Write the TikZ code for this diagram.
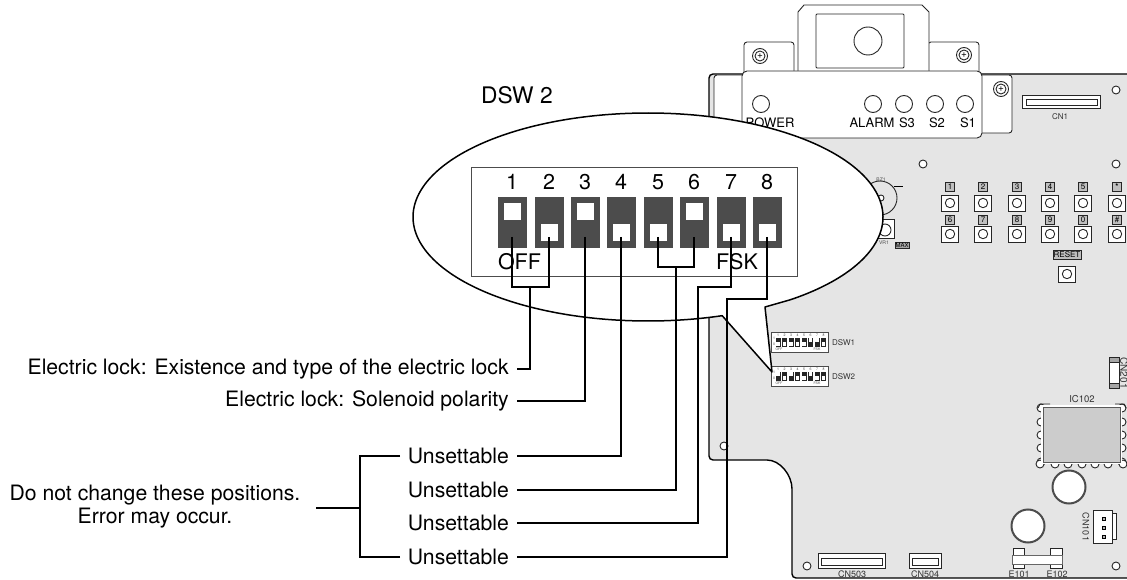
\documentclass[tikz,border=0pt]{standalone}
\usepackage{fontspec}
\setmainfont{TeX Gyre Heros}
\usetikzlibrary{positioning}

\begin{document}
\begin{tikzpicture}[x=1pt,y=-1pt]
\tikzstyle{lead}=[draw,line width=1.7pt]
\tikzstyle{part}=[draw=black!85,line width=0.9pt,fill=white]
\tikzstyle{hole}=[draw=black!85,line width=0.9pt,fill=white]
\tikzstyle{sw}=[draw=black!70,fill=black!70,minimum width=28pt,minimum height=50pt,inner sep=0pt]
\tikzstyle{win}=[draw=black!70,fill=white,minimum size=18pt,inner sep=0pt]
\tikzstyle{minisw}=[fill=black!85,minimum width=5pt,minimum height=9pt,inner sep=0pt]
\tikzstyle{miniwin}=[fill=white,minimum size=3.4pt,inner sep=0pt]
\tikzstyle{key}=[draw=black!85,line width=0.9pt,fill=white,minimum width=17pt,minimum height=16pt,inner sep=0pt]
\tikzstyle{keylabel}=[draw=black!85,fill=black!25,font=\fontsize{8}{8}\selectfont,minimum size=9pt,inner sep=0.5pt]
\tikzstyle{big}=[font=\fontsize{21.5}{21.5}\selectfont,inner sep=0pt]
\tikzstyle{txt}=[font=\fontsize{21.2}{23}\selectfont,inner sep=7.5pt]
\tikzstyle{silk}=[font=\fontsize{9}{9}\selectfont,text=black!80,inner sep=0pt]
\tikzstyle{tiny}=[font=\fontsize{3.5}{3.5}\selectfont,text=black!70,inner sep=0pt]

\clip (0,0) rectangle (1127,580);

% board
\draw[fill=black!10,line width=1.4pt,rounded corners=4pt]
    (1135,74) -- (709,74) -- (709,460) -- (763,460)
    .. controls (780,460) and (792,475) .. (792,493)
    -- (792,578) -- (1135,578) -- cycle;
\draw[part,rounded corners=3pt] (745,75) -- (714,75) -- (714,135) -- (745,135);

% front plate and tabs
\draw[part,rounded corners=3pt] (744,72) -- (744,42) -- (794,42) -- (794,72);
\draw[part,rounded corners=3pt] (928,72) -- (928,42) -- (979,42) -- (979,72);
\draw[part] (798,72) -- (798,12) -- (804,5) -- (922,5) -- (929,12) -- (929,72);
\draw[part,rounded corners=1pt] (816,14) rectangle (904,68);
\node[circle,hole,minimum size=28pt,inner sep=0pt] (lens) at (868,41) {};
\draw[part,rounded corners=3pt] (975,75) -- (1012,75) -- (1012,133) -- (975,133);
\draw[part,rounded corners=5pt] (742,71) rectangle (982,138);
\foreach \n/\x/\y in {a/760/56,b/964/55,c/1001/89} {
    \node[circle,hole,minimum size=15pt,inner sep=0pt] (screw\n) at (\x,\y) {};
    \node[circle,hole,minimum size=10pt,inner sep=0pt] at (\x,\y) {+};
}
\foreach \n/\x/\t/\tx in {a/761/POWER/770,b/873/ALARM/872,c/904/S3/907,d/935/S2/937,e/965/S1/968} {
    \node[circle,hole,minimum size=17pt,inner sep=0pt] (led\n) at (\x,104) {};
    \node[font=\fontsize{13}{13}\selectfont,inner sep=0pt] (ledtext\n) at (\tx,123) {\t};
}

% connectors on the board
\draw[part] (1022,95) rectangle (1100,108);
\draw[part] (1026,99) rectangle (1097,105);
\node[silk,font=\fontsize{8}{8}\selectfont] (cn1) at (1060,117) {CN1};
\draw[part] (818,553) rectangle (885,568);
\draw[part] (821,558) rectangle (882,565);
\node[silk] (cn503) at (852,574) {CN503};
\draw[part] (909,553) rectangle (941,568);
\draw[part] (912,558) rectangle (938,565);
\node[silk] (cn504) at (925,574) {CN504};
\draw[part] (1109,357) rectangle (1119,388);
\draw[fill=black!35,draw=black!85] (1109,357) rectangle (1119,362);
\draw[fill=black!35,draw=black!85] (1109,383) rectangle (1119,388);
\node[silk,font=\fontsize{10}{10}\selectfont,rotate=-90] (cn201) at (1124,373) {CN201};
\draw[part] (1112,513) rectangle (1116,539);
\draw[part] (1093,510) rectangle (1112,543);
\foreach \y in {517,526,535} \draw[fill=black!30,draw=black] (1102.5,\y) rectangle (1105.5,\y+3);
\node[silk,rotate=-90] (cn101) at (1086,527) {CN101};

% IC102
\foreach \y in {408,422,435,448,462} {
    \draw[part] (1041,\y) circle (4);
    \draw[part] (1122,\y) circle (4);
}
\foreach \x in {1040,1055,1068,1082,1095,1108,1123} \draw[part] (\x,464) circle (4);
\fill[white] (1041,405) rectangle (1122,464);
\draw[draw=black!85,line width=0.9pt] (1050,404) -- (1040,404) -- (1038,408);
\draw[draw=black!85,line width=0.9pt] (1115,404) -- (1124,404) -- (1126,408);
\draw[fill=black!20,draw=black!65,line width=1pt] (1043,407) rectangle (1120,462);
\node[silk,font=\fontsize{9.5}{9.5}\selectfont] (ic102) at (1082,399) {IC102};

% round holes
\foreach \n/\x/\y in {a/1069/487,b/1028/526} {
    \node[circle,draw=black!70,fill=white,line width=2pt,minimum size=33pt,inner sep=0pt] (bore\n) at (\x,\y) {};
}
\foreach \x/\y in {1116/90,923/164,1116/164,724/446,807/566,1116/566} \draw[hole] (\x,\y) circle (4);

% fuse holders
\draw[part] (1013,548) rectangle (1024,568);
\draw[part] (1050,548) rectangle (1062,568);
\draw[fill=white,draw=black!60] (1012,555) rectangle (1062,564);
\node[silk] (e101) at (1019,574) {E101};
\node[silk] (e102) at (1057,574) {E102};

% keys
\foreach \x/\t/\s in {950/1/6,983/2/7,1017/3/8,1050/4/9,1083/5/0,1117/\textbf{*}/\#} {
    \node[key] at (\x,203) {};
    \node[key] at (\x,234) {};
    \draw[hole] (\x,203) circle (4.7);
    \draw[hole] (\x,234) circle (4.7);
    \node[keylabel] at (\x,187) {\t};
    \node[keylabel] at (\x,220) {\s};
}
\node[key] (resetkey) at (1067,274) {};
\draw[hole] (1067,274) circle (4.7);
\node[keylabel,above=6pt of resetkey] (resetlabel) {RESET};

% buzzer and volume
\draw[part,fill=none] (880,198) circle (17);
\draw[part] (881,198) circle (3);
\draw[line width=0.6pt] (894,186) -- (903,186);
\node[tiny,font=\fontsize{5}{5}\selectfont] (bz1) at (881,180) {BZ1};
\draw[part] (860,219) rectangle (894,238);
\draw[part] (885,230) circle (6);
\node[tiny,font=\fontsize{5}{5}\selectfont] (vr1) at (884,243) {VR1};
\node[draw=black!85,fill=black!35,font=\fontsize{6}{6}\selectfont,inner sep=0.7pt] (vrmax) at (902,245) {MAX};

% small dip switches
\foreach \n/\y/\pat in {1/332/{1/12,2/12,3/12,4/12,5/12,6/8,7/8,8/12},2/366/{1/8,2/12,3/8,4/12,5/12,6/8,7/12,8/12}} {
    \draw[part,draw=black!70] (771,\y) rectangle (828,\y+20);
    \node[tiny] at (774,\y+6) {1};
    \node[tiny] at (774,\y+12) {0};
    \foreach \i/\w [evaluate=\i as \cx using {771.5+6.5*\i}] in \pat {
        \node[minisw] at (\cx,\y+10) {};
        \node[tiny] at (\cx,\y+3) {\i};
        \node[miniwin] at (\cx,\y+\w) {};
    }
    \node[tiny] at (779,\y+17) {OFF};
    \node[tiny] at (817,\y+17) {FSK};
    \node[silk,anchor=west,font=\fontsize{8}{8}\selectfont] (dsw\n) at (832,\y+11) {DSW\n};
}

% callout
\draw[line width=1.5pt,fill=white,line join=round]
    plot[domain=71.6:412.8,samples=240] ({648+235*cos(\x)},{217+104*sin(\x)})
    -- (765,307) -- (772,372) -- cycle;
\node[font=\fontsize{22.8}{22.8}\selectfont,inner sep=0pt,anchor=west] (title) at (481,95) {DSW 2};
\node[draw=black!70,line width=0.8pt,minimum width=326pt,minimum height=109pt,inner sep=0pt] (panel) at (634.5,221.5) {};

% large switches
\foreach \i/\x/\w in {1/512/211,2/549/232.5,3/585/211,4/621/232.5,5/658/232.5,6/694/211,7/731/232.5,8/767/232.5} {
    \node[sw] (sw\i) at (\x,222) {};
    \node[win] (win\i) at (\x,\w) {};
    \node[big] (num\i) at (\x,182) {\i};
    \coordinate (tap\i) at (\x,237);
}
\node[big] (off) at (519.5,262) {OFF};
\node[big] (fsk) at (737,262) {FSK};

% labels
\node[txt,anchor=east] (lbllock) at (516.5,369) {Electric lock: Existence and type of the electric lock};
\node[txt,anchor=east] (lblpol) at (516.5,401) {Electric lock: Solenoid polarity};
\node[txt,anchor=east] (lblthree) at (516.5,456) {Unsettable};
\node[txt,anchor=east] (lblfour) at (516.5,490) {Unsettable};
\node[txt,anchor=east] (lblfive) at (516.5,523) {Unsettable};
\node[txt,anchor=east] (lblsix) at (516.5,557) {Unsettable};
\node[txt,align=center,inner sep=0pt] (warn) at (155,507) {Do not change these positions.\\Error may occur.};

% leaders
\coordinate (joinA) at (530,287);
\coordinate (joinB) at (676,267);
\coordinate (bendA) at (698,287);
\coordinate (bendB) at (727,299);
\draw[lead] (tap1) |- (joinA) -| (tap2);
\draw[lead] (joinA) |- (lbllock.east);
\draw[lead] (tap3) |- (lblpol.east);
\draw[lead] (tap4) |- (lblthree.east);
\draw[lead] (tap5) |- (joinB) -| (tap6);
\draw[lead] (joinB) |- (lblfour.east);
\draw[lead] (tap7) |- (bendA) |- (lblfive.east);
\draw[lead] (tap8) |- (bendB) |- (lblsix.east);

% bracket
\coordinate (stem) at (316,508);
\coordinate (brace) at (360,508);
\draw[lead] (stem) -- (brace);
\draw[lead] (lblthree.west) -| (brace);
\draw[lead] (lblsix.west) -| (brace);
\end{tikzpicture}
\end{document}
